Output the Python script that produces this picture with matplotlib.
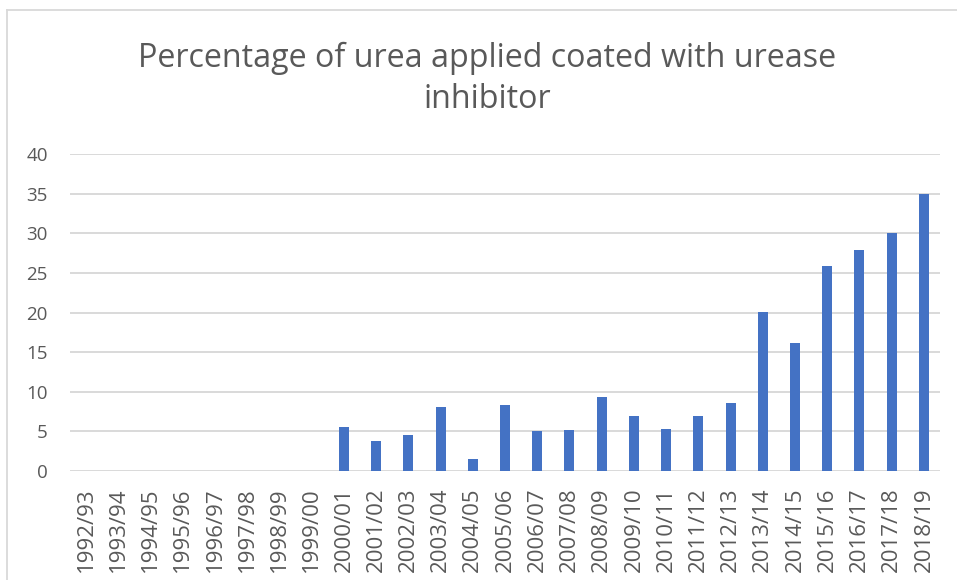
import matplotlib.pyplot as plt
from matplotlib.lines import Line2D

seasons = ['1992/93', '1993/94', '1994/95', '1995/96', '1996/97', '1997/98',
           '1998/99', '1999/00', '2000/01', '2001/02', '2002/03', '2003/04',
           '2004/05', '2005/06', '2006/07', '2007/08', '2008/09', '2009/10',
           '2010/11', '2011/12', '2012/13', '2013/14', '2014/15', '2015/16',
           '2016/17', '2017/18', '2018/19']
pct_coated = [0, 0, 0, 0, 0, 0, 0, 0, 5.6, 3.8, 4.5, 8.1, 1.5, 8.3, 5.0, 5.2,
              9.4, 6.9, 5.3, 7.0, 8.6, 20.1, 16.1, 25.9, 27.9, 30.0, 35.0]
y_ticks = [0, 5, 10, 15, 20, 25, 30, 35, 40]

title = 'Percentage of urea applied coated with urease\ninhibitor'

text_col = '#595959'
grid_col = '#d9d9d9'
bar_col = '#4472C4'

plt.rcParams['font.family'] = ['Open Sans', 'DejaVu Sans']

fig = plt.figure(figsize=(9.57, 5.8), dpi=100)
ax = fig.add_axes([70 / 957, 109 / 580, 870 / 957, 317 / 580])

x = range(len(seasons))
ax.bar(x, pct_coated, width=0.31, color=bar_col, zorder=3)

ax.set_xlim(-0.5, len(seasons) - 0.5)
ax.set_ylim(0, 40)
ax.set_yticks(y_ticks)
ax.set_xticks(list(x))
ax.set_xticklabels(seasons, rotation=90)
ax.yaxis.grid(True, color=grid_col, linewidth=1.4, zorder=0)
ax.tick_params(axis='both', length=0, colors=text_col)
ax.tick_params(axis='y', labelsize=13.5, pad=16)
ax.tick_params(axis='x', labelsize=16, pad=12)
for s in ax.spines.values():
    s.set_visible(False)

fig.text(487 / 957, 1 - 79 / 580, title, ha='center', va='center',
         fontsize=23.2, color=text_col, linespacing=1.3)

# chart-area border (only top and left edges are inside the crop)
fig.add_artist(Line2D([7 / 957, 1], [1 - 10 / 580, 1 - 10 / 580],
                      color=grid_col, linewidth=1.3))
fig.add_artist(Line2D([7 / 957, 7 / 957], [0, 1 - 10 / 580],
                      color=grid_col, linewidth=1.3))

fig.savefig('out.png', dpi=100)
